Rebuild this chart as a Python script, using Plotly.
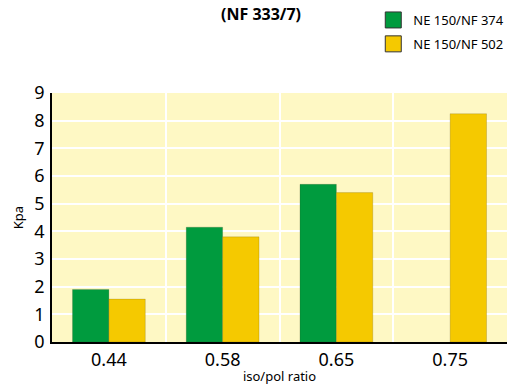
import plotly.graph_objects as go

# Pressure (Kpa) against iso/pol ratio for two formulations
ratios = ["0.44", "0.58", "0.65", "0.75"]
nf374 = [1.9, 4.15, 5.7, None]
nf502 = [1.55, 3.8, 5.4, 8.25]
series_names = ["NE 150/NF 374", "NE 150/NF 502"]
y_ticks = [0, 1, 2, 3, 4, 5, 6, 7, 8, 9]

GREEN = "#009B3E"
YELLOW = "#F5C900"
FONT = "Noto Sans"

fig = go.Figure()

for vals, col in [(nf374, GREEN), (nf502, YELLOW)]:
    fig.add_trace(go.Bar(
        x=ratios, y=vals,
        marker=dict(color=col, line=dict(color="rgba(60,50,20,0.18)", width=1)),
        showlegend=False,
    ))

# Legend entries as square swatches
for name, col in zip(series_names, [GREEN, YELLOW]):
    fig.add_trace(go.Scatter(
        x=[None], y=[None], mode="markers", name=name, legendgroup=name,
        marker=dict(symbol="square", size=16, color=col,
                    line=dict(color="#333333", width=1)),
    ))

PLOT_TOP, PLOT_H = 93, 249
fig.add_annotation(
    text="<b>(NF 333/7)</b>", xref="paper", yref="paper",
    x=0.46, y=1 + (PLOT_TOP - 1) / PLOT_H, xanchor="center", yanchor="top",
    showarrow=False, font=dict(family=FONT, size=16, color="black"),
)

fig.update_layout(
    width=510, height=391,
    margin=dict(l=52, r=1, t=PLOT_TOP, b=49),
    paper_bgcolor="white",
    plot_bgcolor="#FEF8C4",
    barmode="group",
    bargap=0.36,
    bargroupgap=0,
    font=dict(family=FONT, color="black"),
    legend=dict(
        x=1.005, y=1 + (PLOT_TOP - 5) / PLOT_H, xanchor="right", yanchor="top",
        font=dict(family=FONT, size=13, color="black"),
        traceorder="grouped", tracegroupgap=4, itemwidth=30,
        bgcolor="rgba(0,0,0,0)",
    ),
    xaxis=dict(
        type="category",
        tickson="boundaries",
        showgrid=True, gridcolor="white", gridwidth=2,
        showline=True, linecolor="black", linewidth=2,
        ticks="", tickfont=dict(size=18),
        title=dict(text="iso/pol ratio", font=dict(size=13), standoff=2),
    ),
    yaxis=dict(
        range=[0, 9], tickvals=y_ticks,
        showgrid=True, gridcolor="white", gridwidth=2,
        zeroline=False,
        showline=True, linecolor="black", linewidth=1.5,
        ticks="", tickfont=dict(size=18), ticklabelstandoff=2,
        title=dict(text="Kpa", font=dict(size=13), standoff=8),
    ),
)

fig.write_html("out.html")
